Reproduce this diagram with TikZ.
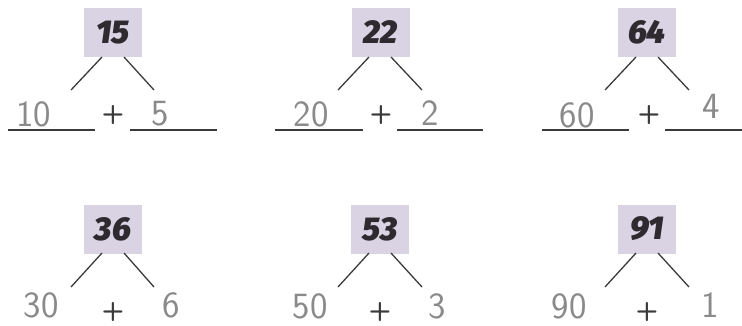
\documentclass[tikz,border=0pt]{standalone}
\usepackage{fontspec}
\newfontfamily\boxfont{Fira Sans}[BoldItalicFont={* Black Italic}]
\definecolor{boxbg}{HTML}{D9D3E3}
\definecolor{boxtxt}{HTML}{2E2A30}
\definecolor{handgray}{HTML}{8A8A8A}
\definecolor{linegray}{HTML}{3A3A3A}
\tikzset{
  numbox/.style={fill=boxbg, draw=none, minimum width=58pt, minimum height=49pt, inner sep=0pt,
    font=\boxfont\bfseries\itshape\fontsize{33}{33}\selectfont, text=boxtxt},
  hand/.style={inner sep=0pt, font=\sffamily\fontsize{37}{37}\selectfont, text=handgray},
  plussign/.style={inner sep=0pt, font=\sffamily\bfseries\fontsize{26}{26}\selectfont, text=linegray},
  branch/.style={draw=linegray, line width=1.3pt},
  uline/.style={draw=linegray, line width=1.1pt}
}
\begin{document}
\begin{tikzpicture}[x=1pt,y=-1pt]
\path[use as bounding box] (0,0) rectangle (742,325);
% ---- Tree 1 : 15
\node[numbox] (b1) at (113,32.5) {15};
\coordinate (b1l) at (102,57); \coordinate (b1r) at (124,57);
\coordinate (e1l) at (71,90); \coordinate (e1r) at (154,90);
\draw[branch] (b1l) -- (e1l); \draw[branch] (b1r) -- (e1r);
\node[hand] (h1a) at (34,114) {10};
\node[hand] (h1b) at (160,114) {5};
\node[plussign] (p1) at (113,115) {+};
\coordinate (u1a) at (8,130); \coordinate (u1b) at (95,130);
\coordinate (u1c) at (130,130); \coordinate (u1d) at (217,130);
\draw[uline] (u1a) -- (u1b); \draw[uline] (u1c) -- (u1d);
% ---- Tree 2 : 22
\node[numbox] (b2) at (380.5,32.5) {22};
\coordinate (b2l) at (369,57); \coordinate (b2r) at (391,57);
\coordinate (e2l) at (338,90); \coordinate (e2r) at (422,90);
\draw[branch] (b2l) -- (e2l); \draw[branch] (b2r) -- (e2r);
\node[hand] (h2a) at (311,114) {20};
\node[hand] (h2b) at (430,113) {2};
\node[plussign] (p2) at (381,115) {+};
\coordinate (u2a) at (275,130); \coordinate (u2b) at (363,130);
\coordinate (u2c) at (397,130); \coordinate (u2d) at (483,130);
\draw[uline] (u2a) -- (u2b); \draw[uline] (u2c) -- (u2d);
% ---- Tree 3 : 64
\node[numbox] (b3) at (647,32.5) {64};
\coordinate (b3l) at (636,57); \coordinate (b3r) at (658,57);
\coordinate (e3l) at (605,90); \coordinate (e3r) at (689,90);
\draw[branch] (b3l) -- (e3l); \draw[branch] (b3r) -- (e3r);
\node[hand] (h3a) at (577,115) {60};
\node[hand] (h3b) at (711,106) {4};
\node[plussign] (p3) at (649,115) {+};
\coordinate (u3a) at (542,130); \coordinate (u3b) at (629,130);
\coordinate (u3c) at (665,130); \coordinate (u3d) at (742,130);
\draw[uline] (u3a) -- (u3b); \draw[uline] (u3c) -- (u3d);
% ---- Tree 4 : 36
\node[numbox] (b4) at (113,229) {36};
\coordinate (b4l) at (102,253); \coordinate (b4r) at (124,253);
\coordinate (e4l) at (71,287); \coordinate (e4r) at (154,287);
\draw[branch] (b4l) -- (e4l); \draw[branch] (b4r) -- (e4r);
\node[hand] (h4a) at (41,305) {30};
\node[hand] (h4b) at (171,305) {6};
\node[plussign] (p4) at (113,312) {+};
% ---- Tree 5 : 53
\node[numbox] (b5) at (380,229) {53};
\coordinate (b5l) at (369,253); \coordinate (b5r) at (391,253);
\coordinate (e5l) at (338,287); \coordinate (e5r) at (422,287);
\draw[branch] (b5l) -- (e5l); \draw[branch] (b5r) -- (e5r);
\node[hand] (h5a) at (310,306) {50};
\node[hand] (h5b) at (437,306) {3};
\node[plussign] (p5) at (380,312) {+};
% ---- Tree 6 : 91
\node[numbox] (b6) at (647,229) {91};
\coordinate (b6l) at (636,253); \coordinate (b6r) at (658,253);
\coordinate (e6l) at (605,287); \coordinate (e6r) at (689,287);
\draw[branch] (b6l) -- (e6l); \draw[branch] (b6r) -- (e6r);
\node[hand] (h6a) at (569,306) {90};
\node[hand] (h6b) at (710,305) {1};
\node[plussign] (p6) at (647,312) {+};
\end{tikzpicture}
\end{document}
